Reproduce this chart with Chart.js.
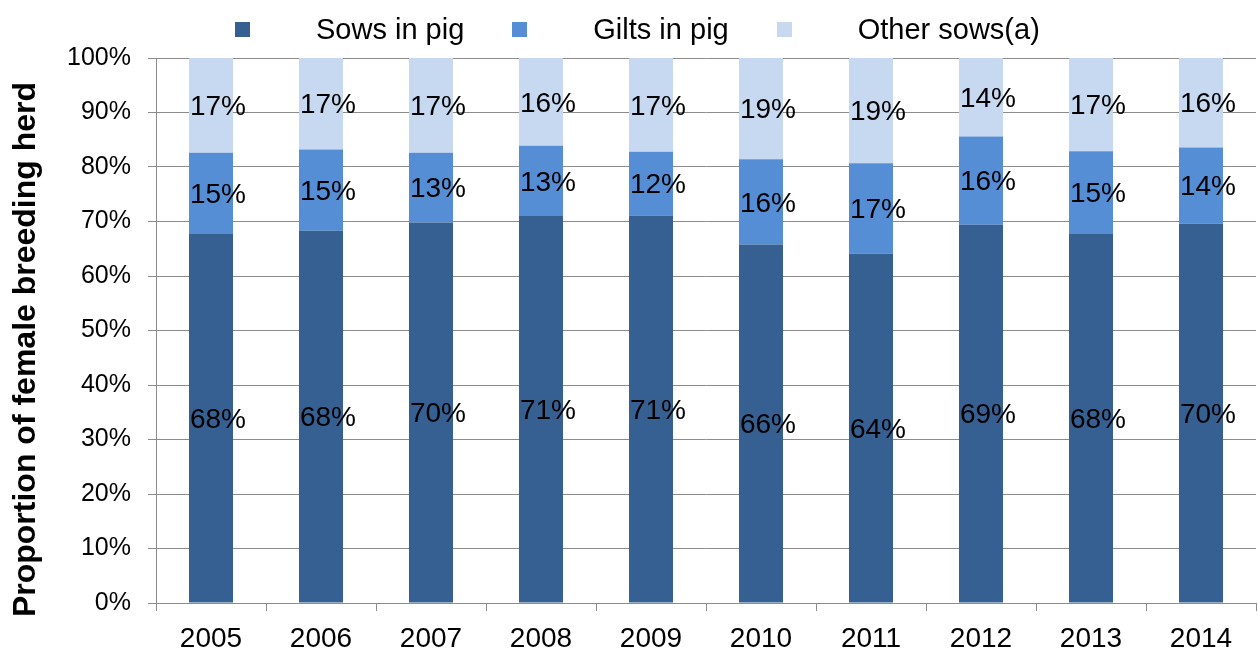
<!DOCTYPE html>
<html>
<head>
<meta charset="utf-8">
<script src="https://cdn.jsdelivr.net/npm/chart.js@4.4.1/dist/chart.umd.min.js"></script>
<style>
  body { margin: 0; background: #fff; }
  #wrap { position: relative; width: 1258px; height: 650px; }
  #legend { position: absolute; left: 235px; top: 12px; display: flex; align-items: center;
    font-family: "Liberation Sans", Arial, sans-serif; font-size: 29px; line-height: 34px; color: #000; }
  #legend .item { display: flex; align-items: center; margin-right: 48px; }
  #legend .box { width: 15px; height: 15px; margin-right: 66px; }
</style>
</head>
<body>
<div id="wrap">
  <canvas id="chart" width="1258" height="650"></canvas>
  <div id="legend"></div>
</div>
<script>
const years = ["2005", "2006", "2007", "2008", "2009", "2010", "2011", "2012", "2013", "2014"];
const sowsInPig = [67.7, 68.3, 69.8, 71.0, 71.1, 65.8, 64.1, 69.4, 67.7, 69.6];
const giltsInPig = [14.9, 14.9, 12.8, 12.9, 11.7, 15.6, 16.6, 16.2, 15.2, 14.0];
const otherSows = [17.4, 16.8, 17.4, 16.1, 17.2, 18.6, 19.3, 14.4, 17.1, 16.4];
const seriesNames = ["Sows in pig", "Gilts in pig", "Other sows(a)"];
const seriesColors = ["#376092", "#558ed5", "#c6d9f1"];
const yTicks = [0, 10, 20, 30, 40, 50, 60, 70, 80, 90, 100];
const yTitle = "Proportion of female breeding herd";

const fontFamily = '"Liberation Sans", Arial, sans-serif';
const gridColor = "#8c8c8c";

// legend as html, Excel style spacing
const legendEl = document.getElementById("legend");
seriesNames.forEach((name, i) => {
  const item = document.createElement("div");
  item.className = "item";
  const box = document.createElement("span");
  box.className = "box";
  box.style.background = seriesColors[i];
  const txt = document.createElement("span");
  txt.textContent = name;
  item.appendChild(box);
  item.appendChild(txt);
  legendEl.appendChild(item);
});

// percent labels in the middle of every segment
const segmentLabels = {
  id: "segmentLabels",
  afterDatasetsDraw(chart) {
    const ctx = chart.ctx;
    ctx.save();
    ctx.font = "28px " + fontFamily;
    ctx.fillStyle = "#000";
    ctx.textAlign = "center";
    ctx.textBaseline = "middle";
    chart.data.datasets.forEach((ds, i) => {
      chart.getDatasetMeta(i).data.forEach((bar, j) => {
        const y = (bar.y + bar.base) / 2 + 2;
        ctx.fillText(Math.round(ds.data[j]) + "%", bar.x + 7, y);
      });
    });
    ctx.restore();
  }
};

// y title, Excel centres it a bit lower than the plot area
const axisTitle = {
  id: "axisTitle",
  afterDraw(chart) {
    const ctx = chart.ctx;
    const area = chart.chartArea;
    ctx.save();
    ctx.translate(26, (area.top + area.bottom) / 2 + 19);
    ctx.rotate(-Math.PI / 2);
    ctx.font = "bold 32px " + fontFamily;
    ctx.fillStyle = "#000";
    ctx.textAlign = "center";
    ctx.textBaseline = "middle";
    ctx.fillText(yTitle, 0, 0);
    ctx.restore();
  }
};

const chart = new Chart(document.getElementById("chart"), {
  type: "bar",
  data: {
    labels: years,
    datasets: [
      { label: seriesNames[0], data: sowsInPig, backgroundColor: seriesColors[0] },
      { label: seriesNames[1], data: giltsInPig, backgroundColor: seriesColors[1] },
      { label: seriesNames[2], data: otherSows, backgroundColor: seriesColors[2] }
    ]
  },
  options: {
    responsive: false,
    animation: false,
    devicePixelRatio: 1,
    layout: { padding: { top: 58, right: 2, left: 0, bottom: 0 } },
    datasets: { bar: { categoryPercentage: 1, barPercentage: 0.4 } },
    plugins: {
      legend: { display: false },
      tooltip: { enabled: false }
    },
    scales: {
      x: {
        stacked: true,
        afterFit(scale) { scale.height = 47; },
        grid: { drawOnChartArea: false, color: gridColor, tickLength: 8, offset: true },
        border: { color: gridColor },
        ticks: { color: "#000", padding: 11, font: { family: fontFamily, size: 28 } }
      },
      y: {
        stacked: true,
        min: 0,
        max: 100,
        afterFit(scale) { scale.width = 156; },
        afterBuildTicks(scale) { scale.ticks = yTicks.map(v => ({ value: v })); },
        grid: { color: gridColor, tickLength: 8 },
        border: { color: gridColor },
        ticks: {
          color: "#000", padding: 17,
          font: { family: fontFamily, size: 25 },
          callback: v => v + "%"
        }
      }
    }
  },
  plugins: [segmentLabels, axisTitle]
});
</script>
</body>
</html>
